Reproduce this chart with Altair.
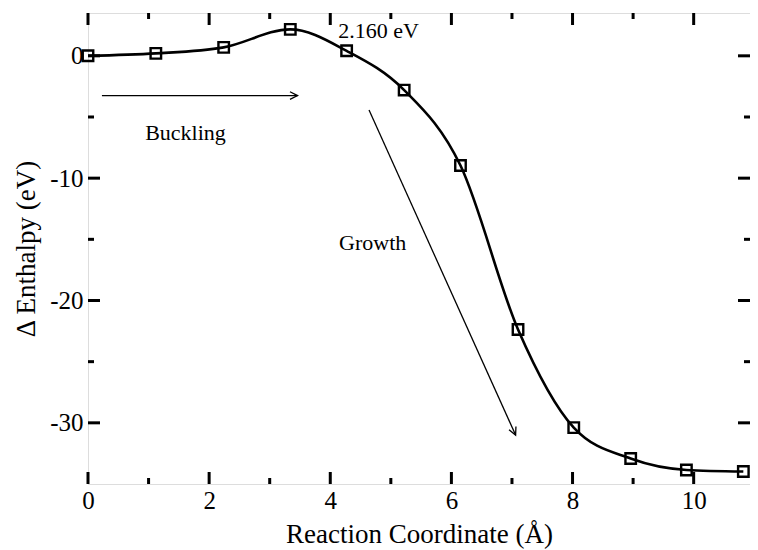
import math
import altair as alt
import pandas as pd

# ---- data ----
coord = [0.0, 1.12, 2.24, 3.34, 4.27, 5.22, 6.15, 7.10, 8.02, 8.96, 9.88, 10.82]
enthalpy = [0.0, 0.2, 0.69, 2.16, 0.41, -2.8, -8.97, -22.37, -30.39, -32.92, -33.85, -33.98]

x_major = [0, 2, 4, 6, 8, 10]
x_minor = [1, 3, 5, 7, 9]
y_major = [0, -10, -20, -30]
y_minor = [-5, -15, -25]

# annotations (data units)
arrow_names = ["Buckling", "Growth"]
arrow_x0 = [0.23, 4.64]
arrow_y0 = [-3.25, -4.43]
arrow_x1 = [3.46, 7.06]
arrow_y1 = [-3.25, -31.0]

labels_text = ["Buckling", "Growth", "2.160 eV"]
labels_x = [1.61, 4.70, 4.13]
labels_y = [-6.3, -15.3, 2.04]
labels_align = ["center", "center", "left"]

X_DOM = [0, 10.93]
Y_DOM = [-35, 3.5]
W, H = 662, 471
FONT = "Liberation Serif"

xs = alt.Scale(domain=X_DOM, nice=False, zero=False)
ys = alt.Scale(domain=Y_DOM, nice=False, zero=False)

df = pd.DataFrame({"x": coord, "y": enthalpy})

base_x_axis = alt.Axis(values=x_major, format="d", ticks=False, tickSize=0, domain=False,
                       grid=False, labelFlush=False, labelOverlap=False,
                       labelFont=FONT, labelFontSize=25, labelPadding=4, labelColor="black",
                       title="Reaction Coordinate (Å)", titleFont=FONT, titleFontSize=27,
                       titleFontWeight="normal", titleColor="black", titlePadding=8)
base_y_axis = alt.Axis(values=y_major, ticks=False, tickSize=0, domain=False, grid=False,
                       labelFlush=False, labelOverlap=False,
                       labelFont=FONT, labelFontSize=25, labelPadding=5, labelColor="black",
                       labelExpr="datum.value < 0 ? '-' + abs(datum.value) : '' + datum.value",
                       title="Δ Enthalpy (eV)", titleFont=FONT, titleFontSize=27,
                       titleFontWeight="normal", titleColor="black", titlePadding=9)

line = alt.Chart(df).mark_line(interpolate="monotone", color="black", strokeWidth=2.6).encode(
    x=alt.X("x:Q", scale=xs, axis=base_x_axis),
    y=alt.Y("y:Q", scale=ys, axis=base_y_axis),
)
points = alt.Chart(df).mark_point(shape="square", filled=False, color="black",
                                  strokeWidth=2.4, size=110, opacity=1).encode(
    x=alt.X("x:Q", scale=xs), y=alt.Y("y:Q", scale=ys))

# inward ticks on all four sides
MAJ, MIN = 12, 6
tick_style = dict(color="black", strokeWidth=3)
tick_layers = []
for vals, ln in [(x_major, MAJ), (x_minor, MIN)]:
    d = pd.DataFrame({"v": vals})
    tick_layers.append(alt.Chart(d).mark_rule(**tick_style).encode(
        x=alt.X("v:Q", scale=xs), y=alt.value(H), y2=alt.value(H - ln)))
    tick_layers.append(alt.Chart(d).mark_rule(**tick_style).encode(
        x=alt.X("v:Q", scale=xs), y=alt.value(0), y2=alt.value(ln)))
for vals, ln in [(y_major, MAJ), (y_minor, MIN)]:
    d = pd.DataFrame({"v": vals})
    tick_layers.append(alt.Chart(d).mark_rule(**tick_style).encode(
        y=alt.Y("v:Q", scale=ys), x=alt.value(0), x2=alt.value(ln)))
    tick_layers.append(alt.Chart(d).mark_rule(**tick_style).encode(
        y=alt.Y("v:Q", scale=ys), x=alt.value(W), x2=alt.value(W - ln)))

# arrows
def px(v):
    return (v - X_DOM[0]) / (X_DOM[1] - X_DOM[0]) * W

def py(v):
    return H - (v - Y_DOM[0]) / (Y_DOM[1] - Y_DOM[0]) * H

angles = [math.degrees(math.atan2(py(y1) - py(y0), px(x1) - px(x0)))
          for x0, y0, x1, y1 in zip(arrow_x0, arrow_y0, arrow_x1, arrow_y1)]
adf = pd.DataFrame({"name": arrow_names, "x0": arrow_x0, "y0": arrow_y0,
                    "x1": arrow_x1, "y1": arrow_y1})

arrow_lines = alt.Chart(adf).mark_rule(color="black", strokeWidth=1.3).encode(
    x=alt.X("x0:Q", scale=xs), y=alt.Y("y0:Q", scale=ys),
    x2="x1:Q", y2="y1:Q")
arrow_heads = []
for i in range(len(arrow_names)):
    arrow_heads.append(alt.Chart(adf.iloc[[i]]).mark_point(
        shape="M-1,-0.5L0,0L-1,0.5", filled=False, color="black", strokeWidth=1.3,
        size=230, opacity=1, angle=round(angles[i] % 360, 2)).encode(
        x=alt.X("x1:Q", scale=xs), y=alt.Y("y1:Q", scale=ys)))

ldf = pd.DataFrame({"t": labels_text, "x": labels_x, "y": labels_y, "a": labels_align})
texts = []
for al in ["center", "left"]:
    texts.append(alt.Chart(ldf[ldf["a"] == al]).mark_text(
        font=FONT, fontSize=22, color="black", align=al, baseline="middle").encode(
        x=alt.X("x:Q", scale=xs), y=alt.Y("y:Q", scale=ys), text="t:N"))

chart = alt.layer(line, points, *tick_layers, arrow_lines, *arrow_heads, *texts).properties(
    width=W, height=H,
    autosize=alt.AutoSizeParams(type="none"),
    padding={"left": 80, "top": 5, "right": 0, "bottom": 65},
).configure_view(stroke="black", strokeWidth=3).configure(background="white")

chart.save("out.html", embed_options={"renderer": "svg", "actions": False})
